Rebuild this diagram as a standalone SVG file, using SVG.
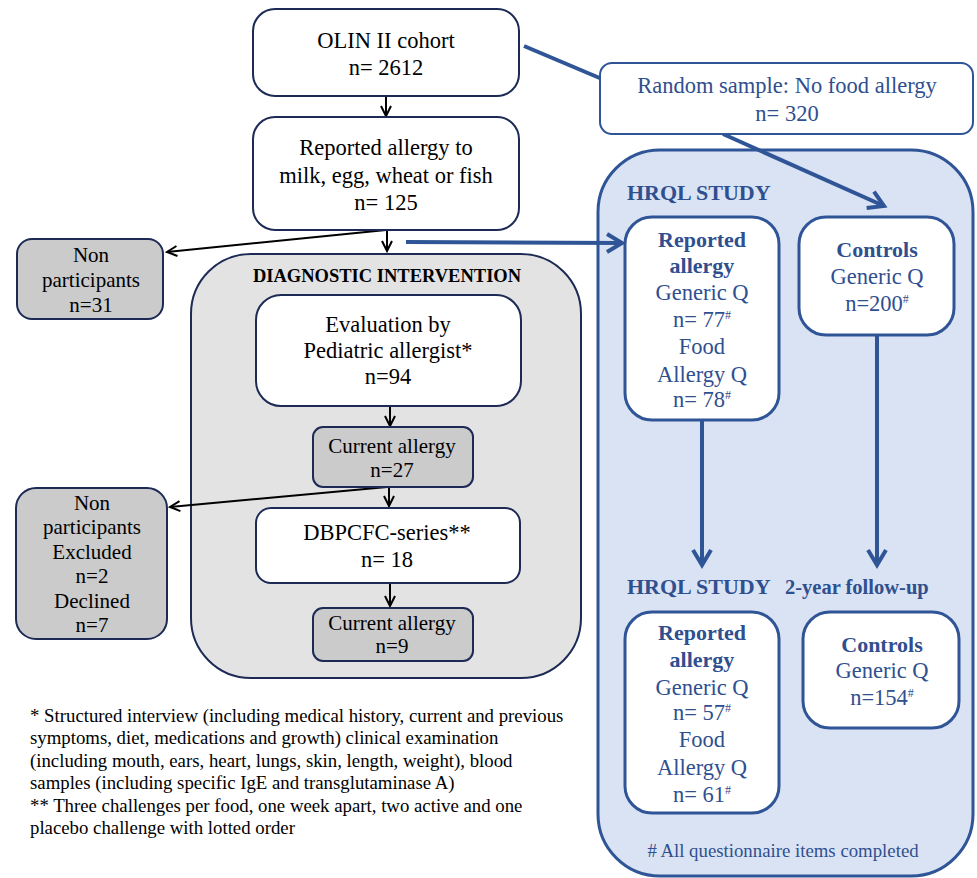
<svg xmlns="http://www.w3.org/2000/svg" width="977" height="878" viewBox="0 0 977 878">
<style>
  text { font-family: "Liberation Serif", "Times New Roman", serif; fill: #000; }
  .c { text-anchor: middle; }
  .m { font-size: 22.5px; }
  .s { font-size: 21px; }
  .b { fill: #2f4f8f; font-size: 22.5px; }
  .bb { fill: #2f4f8f; font-size: 22px; font-weight: bold; }
  .wbox { fill: #fff; stroke: #1c2a55; stroke-width: 2; }
  .gbox { fill: #cbcbcb; stroke: #1c2a55; stroke-width: 2; }
  .hbox { fill: #fff; stroke: #2f5597; stroke-width: 3; }
  .blk { stroke: #000; stroke-width: 2; fill: none; }
  .blu { stroke: #2f5597; stroke-width: 4; fill: none; }
  .fn { font-size: 18.8px; }
</style>
<defs>
  <marker id="ab" markerUnits="userSpaceOnUse" markerWidth="14" markerHeight="14" refX="11" refY="6" orient="auto">
    <path d="M1,1 L11,6 L1,11" fill="none" stroke="#000" stroke-width="2"/>
  </marker>
  <marker id="au" markerUnits="userSpaceOnUse" markerWidth="24" markerHeight="24" refX="18" refY="12" orient="auto">
    <path d="M3,3 L18,12 L3,21" fill="none" stroke="#2f5597" stroke-width="4"/>
  </marker>
</defs>

<!-- containers -->
<g id="hrql">
  <rect x="598" y="150" width="375" height="726" rx="62" fill="#dae3f3" stroke="#2f5597" stroke-width="3"/>
  <text x="627" y="200" class="bb">HRQL STUDY</text>
  <text x="627" y="594" class="bb">HRQL STUDY</text>
  <text x="785" y="594" class="bb" style="font-size:20.5px">2-year follow-up</text>
  <text x="783" y="857" class="c b" style="font-size:18.8px">&#35; All questionnaire items completed</text>
</g>
<g id="diagnostic">
  <rect x="191" y="254" width="390" height="424" rx="60" fill="#e3e3e3" stroke="#1c2a55" stroke-width="2"/>
  <text x="387" y="282" class="c" style="font-size:18.5px;font-weight:bold">DIAGNOSTIC INTERVENTION</text>
</g>

<!-- connectors -->
<g id="connectors">
  <line x1="386" y1="96" x2="386" y2="116" class="blk" marker-end="url(#ab)"/>
  <line x1="387" y1="230" x2="387" y2="251" class="blk" marker-end="url(#ab)"/>
  <line x1="386" y1="230" x2="167" y2="252" class="blk" marker-end="url(#ab)"/>
  <line x1="390" y1="406" x2="390" y2="426" class="blk" marker-end="url(#ab)"/>
  <line x1="389" y1="487" x2="389" y2="506" class="blk" marker-end="url(#ab)"/>
  <line x1="387" y1="487" x2="170" y2="507" class="blk" marker-end="url(#ab)"/>
  <line x1="390" y1="583" x2="390" y2="606" class="blk" marker-end="url(#ab)"/>
  <line x1="524" y1="46" x2="602" y2="79" class="blu"/>
  <line x1="723" y1="134" x2="884" y2="206" class="blu" marker-end="url(#au)"/>
  <line x1="406" y1="242" x2="622" y2="243" class="blu" marker-end="url(#au)"/>
  <line x1="702" y1="420" x2="702" y2="565" class="blu" marker-end="url(#au)"/>
  <line x1="877" y1="335" x2="877" y2="565" class="blu" marker-end="url(#au)"/>
</g>

<!-- nodes -->
<g id="olin">
  <rect x="253" y="9" width="266" height="87" rx="22" class="wbox"/>
  <text x="386" y="48" class="c m">OLIN II cohort</text>
  <text x="386" y="75" class="c m">n= 2612</text>
</g>
<g id="reported">
  <rect x="253" y="117" width="266" height="113" rx="22" class="wbox"/>
  <text x="386" y="155" class="c m">Reported allergy to</text>
  <text x="386" y="183" class="c m">milk, egg, wheat or fish</text>
  <text x="386" y="210" class="c m">n= 125</text>
</g>
<g id="random">
  <rect x="600" y="63" width="373" height="71" rx="12" fill="#fff" stroke="#2f5597" stroke-width="2"/>
  <text x="787" y="93" class="c b">Random sample: No food allergy</text>
  <text x="787" y="121" class="c b">n= 320</text>
</g>
<g id="nonpart1">
  <rect x="17" y="239" width="146" height="80" rx="15" class="gbox"/>
  <text x="91" y="262" class="c s">Non</text>
  <text x="91" y="287" class="c s">participants</text>
  <text x="91" y="312" class="c s">n=31</text>
</g>
<g id="evaluation">
  <rect x="256" y="295" width="265" height="111" rx="25" class="wbox"/>
  <text x="388" y="332" class="c m">Evaluation by</text>
  <text x="388" y="358" class="c m">Pediatric allergist*</text>
  <text x="388" y="384" class="c m">n=94</text>
</g>
<g id="current1">
  <rect x="313" y="427" width="160" height="60" rx="10" class="gbox"/>
  <text x="392" y="453" class="c s">Current allergy</text>
  <text x="392" y="477" class="c s">n=27</text>
</g>
<g id="nonpart2">
  <rect x="16" y="488" width="151" height="151" rx="20" class="gbox"/>
  <text x="92" y="510" class="c s">Non</text>
  <text x="92" y="534" class="c s">participants</text>
  <text x="92" y="559" class="c s">Excluded</text>
  <text x="92" y="583" class="c s">n=2</text>
  <text x="92" y="608" class="c s">Declined</text>
  <text x="92" y="632" class="c s">n=7</text>
</g>
<g id="dbpcfc">
  <rect x="256" y="508" width="264" height="75" rx="15" class="wbox"/>
  <text x="387" y="540" class="c m">DBPCFC-series**</text>
  <text x="387" y="567" class="c m">n= 18</text>
</g>
<g id="current2">
  <rect x="313" y="608" width="160" height="53" rx="10" class="gbox"/>
  <text x="392" y="630" class="c s">Current allergy</text>
  <text x="392" y="653" class="c s">n=9</text>
</g>
<g id="hrql-reported">
  <rect x="625" y="217" width="154" height="203" rx="27" class="hbox"/>
  <text x="702" y="247" class="c bb">Reported</text>
  <text x="702" y="273" class="c bb">allergy</text>
  <text x="702" y="300" class="c b">Generic Q</text>
  <text x="702" y="327" class="c b">n= 77<tspan dy="-8" font-size="12">#</tspan></text>
  <text x="702" y="354" class="c b">Food</text>
  <text x="702" y="382" class="c b">Allergy Q</text>
  <text x="702" y="407" class="c b">n= 78<tspan dy="-8" font-size="12">#</tspan></text>
</g>
<g id="hrql-controls">
  <rect x="799" y="217" width="155" height="118" rx="27" class="hbox"/>
  <text x="877" y="257" class="c bb">Controls</text>
  <text x="877" y="284" class="c b">Generic Q</text>
  <text x="877" y="311" class="c b">n=200<tspan dy="-8" font-size="12">#</tspan></text>
</g>
<g id="fu-reported">
  <rect x="625" y="612" width="154" height="201" rx="27" class="hbox"/>
  <text x="702" y="640" class="c bb">Reported</text>
  <text x="702" y="667" class="c bb">allergy</text>
  <text x="702" y="695" class="c b">Generic Q</text>
  <text x="702" y="720" class="c b">n= 57<tspan dy="-8" font-size="12">#</tspan></text>
  <text x="702" y="747" class="c b">Food</text>
  <text x="702" y="775" class="c b">Allergy Q</text>
  <text x="702" y="802" class="c b">n= 61<tspan dy="-8" font-size="12">#</tspan></text>
</g>
<g id="fu-controls">
  <rect x="803" y="612" width="156" height="116" rx="27" class="hbox"/>
  <text x="882" y="652" class="c bb">Controls</text>
  <text x="882" y="678" class="c b">Generic Q</text>
  <text x="882" y="705" class="c b">n=154<tspan dy="-8" font-size="12">#</tspan></text>
</g>

<g id="footnote">
  <text x="30" y="722" class="fn">* Structured interview (including medical history, current and previous</text>
  <text x="30" y="744" class="fn">symptoms, diet, medications and growth) clinical examination</text>
  <text x="30" y="767" class="fn">(including mouth, ears, heart, lungs, skin, length, weight), blood</text>
  <text x="30" y="789" class="fn">samples (including specific IgE and transglutaminase A)</text>
  <text x="30" y="812" class="fn">** Three challenges per food, one week apart, two active and one</text>
  <text x="30" y="834" class="fn">placebo challenge with lotted order</text>
</g>
</svg>
